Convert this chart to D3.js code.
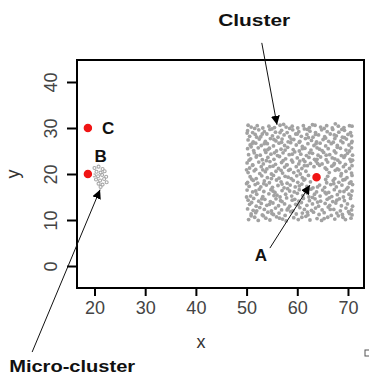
<!DOCTYPE html>
<html>
<head>
<meta charset="utf-8">
<script src="https://cdn.jsdelivr.net/npm/d3@7"></script>
<style>
  html, body { margin: 0; padding: 0; background: #fff; }
  svg { display: block; }
</style>
</head>
<body>
<svg id="chart" width="369" height="376"></svg>
<script>
// Axis ticks
const xTicks = [20, 30, 40, 50, 60, 70];
const yTicks = [0, 10, 20, 30, 40];

// Main cluster (grey points, x 50–71, y 10–31)
const clusterPts = [
  [50.4,10.1],[51.6,10.6],[52.3,9.9],[53.8,10.4],[54.6,10.0],[55.9,10.7],[57.1,10.2],[57.8,9.8],[59.3,10.5],[60.2,10.1],[61.7,10.8],[62.5,10.0],[63.9,10.3],[64.8,9.9],[66.0,10.6],[67.4,10.2],[68.1,10.9],[69.5,10.1],[70.6,10.4],
  [50.9,11.3],[51.8,11.6],[53.1,11.1],[54.2,11.7],[55.3,11.2],[56.4,11.5],[57.6,11.0],[58.7,11.8],[59.8,11.3],[61.0,11.5],[62.1,11.1],[63.2,11.7],[64.3,11.2],[65.3,11.6],[66.7,11.0],[67.8,11.5],[68.9,11.2],[70.1,11.8],[70.8,11.1],
  [50.2,12.4],[51.3,12.1],[52.6,12.7],[53.5,12.3],[54.9,12.0],[55.7,12.6],[56.9,12.2],[58.2,12.5],[59.1,12.0],[60.5,12.7],[61.4,12.3],[62.8,12.1],[63.6,12.6],[64.9,12.2],[66.1,12.8],[67.2,12.3],[68.5,12.0],[69.6,12.6],[70.7,12.2],
  [50.6,13.4],[51.9,13.0],[52.9,13.6],[54.0,13.2],[55.2,13.7],[56.3,13.1],[57.5,13.5],[58.5,13.0],[59.7,13.4],[60.8,13.8],[61.9,13.2],[63.0,13.5],[64.2,13.0],[65.5,13.6],[66.4,13.2],[67.6,13.7],[68.7,13.1],[69.9,13.5],[70.9,13.0],
  [50.3,14.3],[51.4,14.7],[52.4,14.1],[53.6,14.5],[54.7,14.0],[55.8,14.6],[56.7,14.2],[57.9,14.8],[59.0,14.3],[60.3,14.1],[61.2,14.7],[62.4,14.2],[63.5,14.6],[64.6,14.1],[65.9,14.5],[67.0,14.0],[68.3,14.6],[69.3,14.2],[70.5,14.7],
  [50.8,15.2],[52.0,15.6],[53.2,15.1],[54.4,15.7],[55.4,15.3],[56.6,15.0],[57.7,15.6],[58.9,15.2],[60.0,15.8],[61.1,15.3],[62.3,15.0],[63.4,15.6],[64.5,15.2],[65.7,15.7],[66.8,15.1],[67.9,15.5],[69.1,15.0],[70.2,15.6],
  [50.1,16.5],[51.2,16.1],[52.5,16.7],[53.4,16.2],[54.8,16.6],[55.6,16.0],[57.0,16.4],[58.1,16.8],[59.4,16.1],[60.4,16.6],[61.6,16.2],[62.7,16.7],[63.8,16.1],[65.0,16.5],[66.2,16.0],[67.3,16.6],[68.4,16.2],[69.7,16.7],[70.8,16.3],
  [50.5,17.3],[51.7,17.7],[52.8,17.2],[53.9,17.6],[55.1,17.1],[56.2,17.5],[57.4,17.0],[58.6,17.6],[59.6,17.2],[60.9,17.8],[61.9,17.3],[63.1,17.0],[64.4,17.6],[65.4,17.1],[66.6,17.7],[67.7,17.2],[68.8,17.6],[70.0,17.1],[70.9,17.7],
  [50.2,18.2],[51.3,18.6],[52.2,18.0],[53.5,18.5],[54.5,18.1],[55.9,18.7],[56.8,18.3],[58.0,18.0],[59.2,18.6],[60.1,18.2],[61.3,18.7],[62.6,18.3],[65.8,18.1],[67.1,18.6],[68.2,18.2],[69.4,18.8],[70.6,18.3],
  [50.7,19.4],[51.9,19.0],[53.0,19.6],[54.1,19.2],[55.3,19.7],[56.4,19.1],[57.6,19.5],[58.8,19.0],[59.9,19.6],[61.0,19.2],[62.2,19.7],[66.0,19.5],[67.4,19.0],[68.6,19.6],[69.8,19.2],[70.8,19.7],
  [50.3,20.3],[51.5,20.7],[52.6,20.1],[53.7,20.5],[54.9,20.0],[55.8,20.6],[57.1,20.2],[58.3,20.8],[59.3,20.3],[60.6,20.0],[61.7,20.6],[66.3,20.3],[67.5,20.8],[68.7,20.1],[69.6,20.6],[70.7,20.2],
  [50.6,21.3],[51.8,21.0],[52.9,21.6],[54.0,21.1],[55.2,21.7],[56.3,21.2],[57.5,21.5],[58.6,21.0],[59.8,21.6],[60.9,21.2],[62.0,21.8],[63.3,21.6],[64.4,21.9],[65.5,21.3],[66.8,21.7],[67.9,21.1],[69.1,21.6],[70.3,21.2],
  [50.1,22.4],[51.2,22.0],[52.4,22.6],[53.3,22.2],[54.6,22.7],[55.7,22.1],[56.9,22.5],[58.0,22.0],[59.1,22.6],[60.3,22.2],[61.5,22.7],[62.6,22.3],[63.7,22.8],[64.9,22.2],[66.0,22.6],[67.2,22.0],[68.4,22.5],[69.5,22.1],[70.6,22.7],
  [50.8,23.3],[51.9,23.7],[53.1,23.1],[54.2,23.6],[55.4,23.2],[56.5,23.8],[57.7,23.3],[58.9,23.0],[60.0,23.5],[61.2,23.1],[62.3,23.6],[63.4,23.2],[64.6,23.7],[65.7,23.1],[66.9,23.5],[68.0,23.0],[69.2,23.6],[70.4,23.2],
  [50.4,24.2],[51.5,24.6],[52.7,24.1],[53.8,24.7],[54.8,24.3],[56.1,24.0],[57.2,24.6],[58.4,24.2],[59.5,24.8],[60.7,24.3],[61.8,24.0],[63.0,24.5],[64.1,24.1],[65.2,24.7],[66.4,24.2],[67.6,24.6],[68.7,24.0],[69.9,24.5],[70.9,24.1],
  [50.2,25.5],[51.4,25.1],[52.3,25.7],[53.6,25.2],[54.5,25.6],[55.9,25.0],[56.8,25.4],[58.1,25.8],[59.2,25.3],[60.4,25.0],[61.5,25.6],[62.7,25.2],[63.9,25.7],[64.9,25.1],[66.1,25.5],[67.3,25.0],[68.5,25.6],[69.6,25.2],[70.7,25.7],
  [50.7,26.3],[51.8,26.7],[52.9,26.2],[54.1,26.6],[55.3,26.1],[56.4,26.7],[57.5,26.2],[58.7,26.8],[59.8,26.3],[61.0,26.0],[62.1,26.6],[63.3,26.2],[64.5,26.7],[65.6,26.1],[66.7,26.6],[67.9,26.2],[69.0,26.8],[70.2,26.3],
  [50.3,27.4],[51.3,27.0],[52.5,27.6],[53.7,27.1],[54.7,27.7],[55.8,27.2],[57.0,27.6],[58.2,27.0],[59.3,27.5],[60.5,27.1],[61.6,27.7],[62.8,27.3],[63.8,27.0],[65.1,27.5],[66.2,27.1],[67.4,27.7],[68.6,27.2],[69.7,27.6],[70.8,27.1],
  [50.6,28.2],[51.7,28.6],[52.8,28.1],[54.0,28.7],[55.1,28.3],[56.2,28.0],[57.4,28.5],[58.5,28.1],[59.7,28.7],[60.8,28.2],[61.9,28.6],[63.1,28.0],[64.2,28.5],[65.4,28.1],[66.5,28.7],[67.7,28.3],[68.9,28.0],[70.0,28.6],
  [50.2,29.4],[51.2,29.0],[52.4,29.6],[53.5,29.2],[54.6,29.7],[55.7,29.1],[56.9,29.5],[58.0,29.0],[59.1,29.6],[60.3,29.2],[61.4,29.8],[62.5,29.3],[63.6,29.0],[64.8,29.6],[65.9,29.2],[67.0,29.7],[68.2,29.1],[69.3,29.5],[70.5,29.0],
  [50.9,30.2],[52.1,30.5],[53.2,30.0],[54.4,30.4],[55.5,30.1],[56.6,30.6],[57.8,30.2],[59.0,30.4],[60.1,30.0],[61.2,30.5],[62.4,30.1],[63.5,30.6],[64.6,30.2],[65.8,30.5],[66.9,30.0],[68.1,30.4],[69.2,30.1],[70.3,30.5]
];

// Extra scattered cluster points
const clusterPtsExtra = [
  [50.9,10.9],[53.3,10.9],[56.5,10.4],[60.9,10.6],[65.3,10.3],[69.0,10.6],
  [52.0,12.0],[55.0,11.4],[58.0,12.2],[62.0,11.7],[66.5,12.3],[70.3,11.4],
  [51.0,13.8],[54.5,13.4],[57.0,14.0],[60.2,13.3],[64.0,13.9],[67.8,14.3],
  [50.0,15.0],[53.0,14.6],[56.0,15.4],[59.5,14.5],[63.0,14.9],[66.3,14.8],[70.6,15.3],
  [51.8,16.3],[55.2,16.3],[58.5,16.3],[62.0,15.8],[65.5,16.0],[69.2,16.2],
  [50.0,17.9],[53.4,17.9],[57.0,17.8],[60.4,17.4],[64.0,17.2],[67.2,17.9],[70.3,18.0],
  [51.0,18.9],[54.9,19.0],[58.2,19.3],[61.5,18.9],[65.6,18.8],[69.0,18.7],
  [50.0,20.9],[53.2,20.9],[56.8,20.8],[60.2,20.7],[65.8,21.0],[68.2,20.9],
  [51.2,21.9],[54.6,21.6],[57.9,22.0],[61.4,21.8],[64.0,22.3],[67.3,22.3],[70.8,21.8],
  [50.5,23.0],[53.9,22.9],[57.2,22.9],[60.5,22.8],[63.9,23.2],[67.4,23.3],[70.9,23.0],
  [52.0,24.0],[55.5,24.6],[59.0,24.3],[62.4,24.6],[65.7,24.1],[69.4,24.0],
  [50.9,25.9],[54.2,25.3],[57.6,25.2],[61.0,25.5],[64.4,25.4],[67.9,25.8],[70.3,25.0],
  [51.1,26.6],[53.5,26.6],[56.9,26.9],[60.4,26.9],[63.7,26.6],[67.1,26.9],[70.7,26.8],
  [52.0,28.0],[55.4,27.5],[58.8,27.6],[62.2,27.9],[65.6,27.8],[69.3,27.9],
  [50.1,28.9],[53.1,28.7],[56.6,29.0],[60.0,28.7],[63.6,28.6],[67.3,28.5],[70.7,28.3],
  [51.6,29.9],[55.0,29.8],[58.5,29.9],[62.0,29.7],[65.3,29.9],[68.8,29.7],
  [50.3,30.6],[57.3,30.8],[63.0,30.7],[67.5,30.9],[70.8,30.4]
];

// Small micro-cluster near x = 21, y = 19.5
const microPts = [
  [20.0,21.3],[20.8,21.6],[21.6,21.1],[20.4,20.5],[21.2,20.3],[22.0,20.6],
  [19.9,19.7],[20.7,19.5],[21.5,19.8],[22.3,19.4],[20.3,18.8],[21.1,18.6],
  [21.9,18.9],[20.8,17.9],[21.6,17.7],[22.4,18.2],[21.2,17.2]
];

// Highlighted outliers
const outlierNames = ["A", "B", "C"];
const outlierX = [63.8, 18.7, 18.7];
const outlierY = [19.3, 20.0, 30.0];

// Point labels (data coordinates)
const pointLabelX = [52.8, 21.2, 21.5];
const pointLabelY = [2.4, 23.9, 30.0];

// Callouts: text, its anchor, and arrow from -> to (data coordinates)
const calloutText = ["Cluster", "Micro-cluster"];
const calloutX = [51.5, 15.6];
const calloutY = [53.6, -21.6];
const arrowFrom = [[53.0, 48.5], [54.6, 3.9], [7.7, -18.7]];
const arrowTo   = [[56.0, 30.7], [62.5, 17.6], [21.1, 16.6]];

const svg = d3.select("#chart");

const x = d3.scaleLinear().domain([16.55, 73.16]).range([77, 364]);
const y = d3.scaleLinear().domain([-4.78, 44.78]).range([288, 60]);

svg.append("defs").append("marker")
  .attr("id", "head")
  .attr("viewBox", "0 0 10 10")
  .attr("refX", 10).attr("refY", 5)
  .attr("markerWidth", 9).attr("markerHeight", 9)
  .attr("markerUnits", "userSpaceOnUse")
  .attr("orient", "auto")
  .append("path").attr("d", "M0,0 L10,5 L0,10 z").attr("fill", "#000");

// Cluster points
const pointsG = svg.append("g");
pointsG.selectAll("circle.c")
  .data(clusterPts.concat(clusterPtsExtra))
  .join("circle")
  .attr("class", "c")
  .attr("cx", d => x(d[0])).attr("cy", d => y(d[1]))
  .attr("r", 1.9)
  .attr("fill", "#a2a2a2");

pointsG.selectAll("circle.m")
  .data(microPts)
  .join("circle")
  .attr("class", "m")
  .attr("cx", d => x(d[0])).attr("cy", d => y(d[1]))
  .attr("r", 1.5)
  .attr("fill", "none")
  .attr("stroke", "#a8a8a8")
  .attr("stroke-width", 1.1);

// Outliers
svg.append("g").selectAll("circle")
  .data(outlierNames.map((n, i) => ({ n, x: outlierX[i], y: outlierY[i] })))
  .join("circle")
  .attr("cx", d => x(d.x)).attr("cy", d => y(d.y))
  .attr("r", 5)
  .attr("fill", "#f01414")
  .attr("stroke", "#fff")
  .attr("stroke-width", 1.5);

// Plot frame
svg.append("rect")
  .attr("x", x.range()[0]).attr("y", y.range()[1])
  .attr("width", x.range()[1] - x.range()[0])
  .attr("height", y.range()[0] - y.range()[1])
  .attr("fill", "none").attr("stroke", "#000").attr("stroke-width", 2);

// X axis
const xAxis = svg.append("g").attr("transform", `translate(0,${y.range()[0]})`)
  .call(d3.axisBottom(x).tickValues(xTicks).tickSize(8).tickPadding(5));
xAxis.select(".domain").remove();
xAxis.selectAll("line").attr("stroke", "#000").attr("stroke-width", 2);
xAxis.selectAll("text").attr("font-family", "Liberation Sans, Arial, sans-serif")
  .attr("font-size", 18).attr("fill", "#444");

// Y axis
const yAxis = svg.append("g").attr("transform", `translate(${x.range()[0]},0)`)
  .call(d3.axisLeft(y).tickValues(yTicks).tickSize(10));
yAxis.select(".domain").remove();
yAxis.selectAll("line").attr("stroke", "#000").attr("stroke-width", 2);
yAxis.selectAll("text")
  .attr("font-family", "Liberation Sans, Arial, sans-serif")
  .attr("font-size", 18).attr("fill", "#444")
  .attr("x", null).attr("dy", null)
  .attr("text-anchor", "middle")
  .attr("transform", "translate(-20,0) rotate(-90)");

// Axis titles
svg.append("text").text("x")
  .attr("x", x(41)).attr("y", 348)
  .attr("text-anchor", "middle")
  .attr("font-family", "Liberation Sans, Arial, sans-serif")
  .attr("font-size", 18).attr("fill", "#333");
svg.append("text").text("y")
  .attr("transform", `translate(19,${y(20)}) rotate(-90)`)
  .attr("text-anchor", "middle")
  .attr("font-family", "Liberation Sans, Arial, sans-serif")
  .attr("font-size", 18).attr("fill", "#333");

// Arrows
svg.append("g").selectAll("line")
  .data(arrowFrom.map((f, i) => [f, arrowTo[i]]))
  .join("line")
  .attr("x1", d => x(d[0][0])).attr("y1", d => y(d[0][1]))
  .attr("x2", d => x(d[1][0])).attr("y2", d => y(d[1][1]))
  .attr("stroke", "#111").attr("stroke-width", 1)
  .attr("marker-end", "url(#head)");

// Outlier labels
svg.append("g").selectAll("text")
  .data(outlierNames)
  .join("text")
  .text(d => d)
  .attr("x", (d, i) => x(pointLabelX[i])).attr("y", (d, i) => y(pointLabelY[i]))
  .attr("dy", "0.36em")
  .attr("text-anchor", (d, i) => i === 2 ? "start" : "middle")
  .attr("font-family", "Liberation Sans, Arial, sans-serif")
  .attr("font-weight", "bold").attr("font-size", 17).attr("fill", "#111");

// Callout texts
svg.append("g").selectAll("text")
  .data(calloutText)
  .join("text")
  .text(d => d)
  .attr("x", (d, i) => x(calloutX[i])).attr("y", (d, i) => y(calloutY[i]))
  .attr("dy", "0.36em")
  .attr("text-anchor", "middle")
  .attr("textLength", (d, i) => i === 0 ? 72 : 126)
  .attr("lengthAdjust", "spacingAndGlyphs")
  .attr("font-family", "Liberation Sans, Arial, sans-serif")
  .attr("font-weight", "bold").attr("font-size", 17).attr("fill", "#111");

// Small corner mark
svg.append("rect").attr("x", 365).attr("y", 350).attr("width", 5).attr("height", 6)
  .attr("fill", "none").attr("stroke", "#555").attr("stroke-width", 1);
</script>
</body>
</html>
